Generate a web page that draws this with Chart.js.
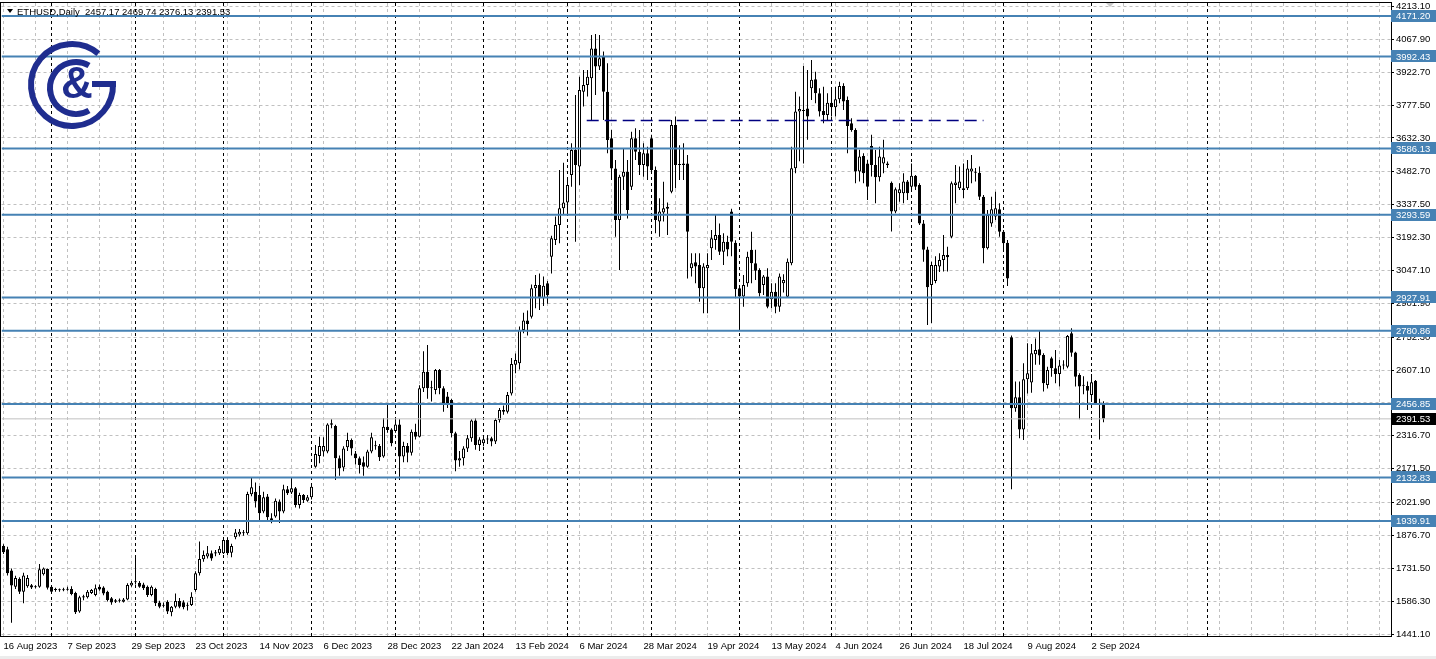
<!DOCTYPE html>
<html>
<head>
<meta charset="utf-8">
<title>ETHUSD, Daily</title>
<script src="https://cdn.jsdelivr.net/npm/chart.js@4.4.1/dist/chart.umd.min.js"></script>
<style>
  html, body { margin: 0; padding: 0; background: #fff; }
  #wrap { width: 1436px; height: 659px; position: relative; }
</style>
</head>
<body>
<div id="wrap"><canvas id="chart" width="1436" height="659"></canvas></div>
<script>
// ETHUSD daily candles, one per weekday, 16 Aug 2023 -> 5 Sep 2024
const openP = [
  1830,1815,1722,1650,1685,1628,1652,1656,1648,1650,
  1705,1728,1650,1635,1636,1634,1637,1640,1622,1540,
  1602,1603,1622,1613,1650,1647,1628,1599,1584,1588,
  1584,1594,1655,1670,1668,1660,1650,1613,1640,1580,
  1566,1584,1537,1562,1587,1581,1566,1569,1636,1709,
  1771,1783,1798,1797,1798,1798,1856,1800,1868,1881,
  1886,1886,2058,2070,2055,1982,2048,1952,1960,2026,
  1982,2080,2066,2085,2011,2055,2030,2045,2180,2227,
  2247,2247,2372,2360,2217,2177,2266,2298,2239,2217,
  2200,2180,2247,2270,2272,2225,2357,2345,2338,2367,
  2225,2272,2242,2335,2313,2527,2600,2527,2519,2607,
  2527,2490,2475,2328,2207,2217,2261,2306,2384,2276,
  2284,2300,2306,2291,2387,2423,2423,2504,2630,2637,
  2784,2826,2843,2968,2983,2924,2990,3108,3182,3248,
  3322,3347,3469,3579,3506,3837,3866,3896,4028,3948,
  3992,3837,3631,3498,3270,3461,3483,3417,3631,3572,
  3513,3565,3631,3491,3263,3303,3320,3395,3690,3513,
  3513,3520,3057,3083,3071,2968,3057,3145,3182,3204,
  3130,3174,3307,3170,2968,2932,2990,3138,3079,3049,
  2983,3020,2920,2953,2887,2990,2931,3079,3499,3749,
  3751,3763,3852,3892,3830,3752,3734,3788,3768,3803,
  3862,3800,3697,3668,3484,3553,3520,3597,3513,3459,
  3520,3520,3435,3307,3388,3388,3440,3417,3465,3425,
  3255,3140,2983,3000,3064,3093,3115,3196,3425,3410,
  3403,3410,3484,3480,3479,3373,3145,3255,3285,3317,
  3218,3170,2752,2438,2487,2345,2566,2552,2677,2699,
  2674,2541,2659,2615,2590,2627,2622,2770,2685,2585,
  2540,2537,2497,2560,2460,2457.17
];
const highP = [
  1838,1826,1730,1698,1692,1712,1702,1662,1656,1750,
  1735,1731,1652,1645,1642,1645,1650,1652,1628,1610,
  1615,1635,1640,1660,1660,1652,1632,1605,1596,1598,
  1600,1665,1675,1790,1675,1668,1655,1655,1645,1588,
  1580,1590,1565,1620,1600,1590,1580,1625,1718,1850,
  1810,1830,1810,1812,1830,1865,1868,1840,1905,1905,
  1900,2070,2135,2110,2095,2070,2060,1975,2040,2035,
  2100,2095,2135,2090,2065,2060,2055,2100,2276,2313,
  2310,2372,2390,2365,2230,2270,2330,2305,2250,2225,
  2225,2255,2330,2295,2280,2395,2453,2350,2395,2390,
  2290,2285,2345,2370,2540,2690,2718,2560,2612,2612,
  2535,2510,2480,2335,2250,2270,2320,2390,2395,2310,
  2320,2320,2312,2395,2440,2450,2510,2660,2680,2800,
  2860,2870,2985,3027,3034,3020,3000,3200,3285,3491,
  3523,3460,3609,3822,3903,3933,3933,4087,4092,4087,
  4014,3962,3668,3535,3470,3587,3535,3660,3675,3668,
  3609,3594,3646,3506,3366,3439,3347,3712,3727,3600,
  3609,3557,3123,3123,3123,3079,3123,3226,3292,3255,
  3211,3200,3320,3180,2980,3027,3130,3218,3138,3057,
  3027,3057,2990,2990,3034,3030,3100,3594,3837,3815,
  3950,3933,3977,3925,3852,3859,3830,3852,3859,3881,
  3874,3815,3719,3675,3580,3565,3535,3646,3579,3594,
  3624,3528,3440,3414,3432,3476,3447,3520,3469,3432,
  3270,3152,3086,3110,3123,3204,3152,3440,3513,3506,
  3520,3535,3557,3500,3506,3380,3314,3373,3395,3344,
  3226,3182,2760,2556,2556,2637,2725,2722,2747,2780,
  2681,2622,2666,2696,2652,2650,2762,2792,2688,2593,
  2580,2556,2590,2563,2480,2469.74
];
const lowP = [
  1795,1700,1491,1640,1618,1577,1645,1640,1642,1645,
  1700,1638,1620,1628,1628,1630,1632,1612,1530,1535,
  1590,1598,1618,1608,1632,1612,1585,1570,1578,1580,
  1580,1590,1650,1660,1645,1635,1605,1608,1565,1555,
  1558,1530,1520,1555,1555,1550,1545,1565,1628,1700,
  1760,1775,1765,1785,1790,1795,1790,1780,1860,1872,
  1875,1880,2050,2000,1940,1975,1945,1930,1955,1932,
  1975,2055,2060,2000,1995,2020,2025,2035,2175,2195,
  2225,2240,2350,2121,2140,2160,2250,2230,2190,2150,
  2140,2175,2240,2255,2205,2220,2330,2270,2330,2121,
  2200,2200,2230,2300,2310,2510,2480,2468,2500,2500,
  2423,2440,2310,2160,2180,2185,2245,2290,2255,2250,
  2270,2280,2270,2280,2375,2410,2415,2495,2593,2610,
  2770,2760,2835,2880,2872,2890,2900,3034,3160,3167,
  3292,3300,3417,3174,3425,3771,3815,3712,3822,3933,
  3712,3565,3447,3196,3049,3403,3277,3403,3535,3469,
  3461,3447,3480,3211,3196,3263,3204,3388,3410,3447,
  3447,3012,3020,2990,2909,2858,2858,3093,3138,3115,
  3071,3110,3110,2924,2784,2887,2975,2990,3005,2932,
  2939,2880,2880,2858,2865,2950,2925,3070,3476,3530,
  3520,3624,3800,3786,3727,3697,3712,3727,3727,3786,
  3756,3565,3660,3432,3440,3432,3358,3462,3344,3440,
  3476,3500,3219,3300,3351,3344,3358,3403,3403,3248,
  3086,2806,2815,2990,3040,3042,3042,3189,3344,3403,
  3366,3403,3432,3440,3358,3079,3140,3240,3270,3196,
  3130,2978,2080,2423,2306,2298,2504,2507,2630,2630,
  2512,2526,2578,2549,2534,2610,2615,2666,2534,2390,
  2500,2431,2475,2453,2300,2376.13
];
const closeP = [
  1802,1710,1655,1688,1628,1700,1688,1647,1650,1727,
  1731,1645,1628,1638,1634,1636,1640,1618,1537,1603,
  1608,1628,1636,1643,1638,1620,1591,1580,1590,1590,
  1594,1658,1668,1672,1650,1643,1613,1650,1577,1562,
  1570,1540,1562,1587,1562,1559,1570,1606,1709,1772,
  1790,1798,1775,1802,1818,1856,1798,1830,1890,1893,
  1887,2060,2089,2026,1974,2045,1957,1945,2030,1982,
  2080,2063,2085,2011,2055,2033,2045,2092,2236,2272,
  2272,2367,2365,2217,2173,2261,2298,2261,2217,2188,
  2180,2247,2310,2274,2222,2357,2342,2284,2367,2225,
  2272,2242,2335,2313,2527,2600,2527,2530,2607,2527,
  2457,2457,2328,2207,2217,2261,2306,2384,2276,2300,
  2301,2303,2291,2387,2431,2431,2497,2634,2652,2784,
  2826,2810,2968,2983,2924,2980,2938,3189,3248,3322,
  3347,3425,3579,3513,3844,3866,3903,4028,3948,3984,
  3837,3623,3498,3270,3461,3483,3314,3631,3572,3513,
  3565,3506,3491,3270,3307,3322,3329,3690,3513,3515,
  3520,3218,3079,3064,2968,3064,3071,3189,3204,3130,
  3174,3140,3174,2964,2932,2983,3108,3079,3046,2946,
  3020,2887,2953,2887,3020,3005,3086,3499,3749,3760,
  3755,3727,3889,3830,3749,3734,3788,3768,3803,3862,
  3793,3685,3668,3484,3550,3476,3417,3513,3459,3550,
  3547,3513,3307,3406,3406,3440,3388,3465,3417,3255,
  3138,2973,3071,3071,3093,3115,3105,3432,3436,3440,
  3410,3498,3498,3479,3373,3145,3292,3317,3322,3218,
  3167,3012,2438,2487,2345,2566,2593,2681,2696,2671,
  2549,2607,2615,2590,2627,2630,2758,2684,2578,2534,
  2538,2516,2553,2457,2455,2391.53
];

// one date label every 16 bars
const dateLabels = [
  '16 Aug 2023', '7 Sep 2023', '29 Sep 2023', '23 Oct 2023', '14 Nov 2023', '6 Dec 2023',
  '28 Dec 2023', '22 Jan 2024', '13 Feb 2024', '6 Mar 2024', '28 Mar 2024', '19 Apr 2024',
  '13 May 2024', '4 Jun 2024', '26 Jun 2024', '18 Jul 2024', '9 Aug 2024', '2 Sep 2024'
];
const priceTicks = [
  4213.10, 4067.90, 3922.70, 3777.50, 3632.30, 3482.70, 3337.50, 3192.30, 3047.10, 2901.90,
  2752.30, 2607.10, 2461.90, 2316.70, 2171.50, 2021.90, 1876.70, 1731.50, 1586.30, 1441.10
];
// horizontal levels drawn on the chart
const levelLines = [4171.20, 3992.43, 3586.13, 3293.59, 2927.91, 2780.86, 2456.85, 2132.83, 1939.91];
const lastPrice = 2391.53;
const dashLevel = { fromBar: 145.8, toBar: 245, price: 3709.5 };
// first bar of each month (period separators)
const monthStarts = [12, 33, 55, 77, 98, 120, 141, 162, 184, 207, 227, 250, 272, 301];
const headerText = 'ETHUSD,Daily  2457.17 2469.74 2376.13 2391.53';

const X_MIN = -0.5, X_MAX = 346.875;
const Y_MIN = 1432.27, Y_MAX = 4228.56;
const levelColor = '#4682b4';
const logoColor = '#1f2d8f';
const axisFont = { family: '"Liberation Sans", Arial, sans-serif', size: 9.5 };
const fontCss = '9.5px "Liberation Sans", Arial, sans-serif';

const wickData = lowP.map((lo, i) => ({ x: i, y: [lo, highP[i]] }));
const bodyData = openP.map((o, i) => ({ x: i, y: [o, closeP[i]] }));

const datasets = [
  {
    type: 'bar', data: wickData, order: 3, grouped: false,
    barThickness: 1, backgroundColor: '#000', borderWidth: 0, inflateAmount: 0
  },
  {
    type: 'bar', data: bodyData, order: 2, grouped: false,
    barThickness: 3, minBarLength: 1, inflateAmount: 0,
    backgroundColor: ctx => {
      const i = ctx.dataIndex;
      return closeP[i] >= openP[i] ? '#fff' : '#000';
    },
    borderColor: '#000', borderWidth: 1, borderSkipped: false
  },
  {
    type: 'line', order: 1, borderColor: '#c0c0c0', borderWidth: 1, pointRadius: 0,
    data: [{ x: X_MIN, y: lastPrice }, { x: X_MAX, y: lastPrice }]
  },
  {
    type: 'line', order: 1, borderColor: '#000080', borderWidth: 1.5, borderDash: [12, 6], pointRadius: 0,
    data: [{ x: dashLevel.fromBar, y: dashLevel.price }, { x: dashLevel.toBar, y: dashLevel.price }]
  }
];
levelLines.forEach(v => {
  datasets.push({
    type: 'line', order: 0, borderColor: levelColor, borderWidth: 2, pointRadius: 0,
    data: [{ x: X_MIN, y: v }, { x: X_MAX, y: v }]
  });
});

function drawLogo(ctx) {
  ctx.save();
  ctx.strokeStyle = logoColor;
  ctx.fillStyle = logoColor;
  ctx.lineWidth = 6;
  // outer G
  ctx.beginPath();
  ctx.arc(72, 85, 41, -50 * Math.PI / 180, -2 * Math.PI / 180, true);
  ctx.stroke();
  ctx.beginPath();
  ctx.moveTo(116, 84);
  ctx.lineTo(92, 84);
  ctx.stroke();
  // inner C
  ctx.beginPath();
  ctx.arc(76, 88, 26, -60 * Math.PI / 180, 60 * Math.PI / 180, true);
  ctx.stroke();
  ctx.font = 'bold 44px "Liberation Sans", Arial, sans-serif';
  ctx.textAlign = 'center';
  ctx.textBaseline = 'middle';
  ctx.fillText('&', 77, 86);
  ctx.restore();
}

const chartDecor = {
  id: 'chartDecor',
  beforeDatasetsDraw(chart) {
    const { ctx, chartArea: a, scales: { x } } = chart;
    ctx.save();
    ctx.beginPath();
    ctx.rect(a.left, a.top, a.right - a.left, a.bottom - a.top);
    ctx.clip();
    ctx.strokeStyle = '#000';
    ctx.lineWidth = 1;
    ctx.setLineDash([3, 3]);
    monthStarts.forEach(i => {
      const px = Math.floor(x.getPixelForValue(i)) + 0.5;
      ctx.beginPath();
      ctx.moveTo(px, a.top);
      ctx.lineTo(px, a.bottom);
      ctx.stroke();
    });
    ctx.restore();
  },
  afterDraw(chart) {
    const { ctx, chartArea: a, scales: { y } } = chart;
    ctx.save();
    // frame
    ctx.strokeStyle = '#000';
    ctx.lineWidth = 1;
    ctx.strokeRect(0.5, a.top - 0.5, Math.round(a.right), Math.round(a.bottom - a.top) + 1);
    // bottom strip
    ctx.fillStyle = '#ececec';
    ctx.fillRect(0, chart.height - 3, chart.width, 3);
    // header
    ctx.fillStyle = '#000';
    ctx.beginPath();
    ctx.moveTo(7, 9); ctx.lineTo(13, 9); ctx.lineTo(10, 13); ctx.closePath();
    ctx.fill();
    ctx.font = fontCss;
    ctx.textBaseline = 'middle';
    ctx.textAlign = 'left';
    ctx.fillText(headerText, 17, 12);
    // chart shift marker
    ctx.fillStyle = '#c8c8c8';
    ctx.beginPath();
    ctx.moveTo(1106, 3); ctx.lineTo(1114, 3); ctx.lineTo(1110, 7); ctx.closePath();
    ctx.fill();
    drawLogo(ctx);
    // price boxes on the axis
    const boxX = Math.round(a.right);
    const boxW = chart.width - boxX;
    const box = (v, bg) => {
      const py = y.getPixelForValue(v);
      ctx.fillStyle = bg;
      ctx.fillRect(boxX, Math.round(py) - 6, boxW, 12);
      ctx.fillStyle = '#fff';
      ctx.fillText(v.toFixed(2), boxX + 5, py + 0.5);
    };
    levelLines.forEach(v => box(v, levelColor));
    box(lastPrice, '#000');
    ctx.restore();
  }
};

new Chart(document.getElementById('chart'), {
  type: 'bar',
  data: { datasets },
  options: {
    responsive: false,
    animation: false,
    devicePixelRatio: 1,
    events: [],
    layout: { padding: { left: 1.5, top: 3, right: 0, bottom: 0 } },
    plugins: { legend: { display: false }, tooltip: { enabled: false }, title: { display: false } },
    scales: {
      x: {
        type: 'linear', position: 'bottom', min: X_MIN, max: X_MAX, offset: false,
        afterBuildTicks: s => {
          const t = [];
          for (let v = 0; v <= 344; v += 8) t.push({ value: v });
          s.ticks = t;
        },
        afterFit: s => { s.height = 23; s.paddingLeft = 0; s.paddingRight = 0; },
        ticks: {
          autoSkip: false, maxRotation: 0, align: 'start', padding: 5, color: '#000', font: axisFont,
          callback: v => (v % 16 === 0 && dateLabels[v / 16]) ? dateLabels[v / 16] : ''
        },
        grid: { color: '#c0c0c0', lineWidth: 1, drawTicks: false, offset: false },
        border: { display: false, dash: [3, 3] }
      },
      y: {
        type: 'linear', position: 'right', min: Y_MIN, max: Y_MAX,
        afterBuildTicks: s => { s.ticks = priceTicks.map(v => ({ value: v })); },
        afterFit: s => { s.width = 45; s.paddingTop = 0; s.paddingBottom = 0; },
        ticks: { padding: 2, color: '#000', font: axisFont, callback: v => v.toFixed(2) },
        grid: { color: '#c0c0c0', lineWidth: 1, tickColor: '#000', tickLength: 3, tickBorderDash: [] },
        border: { display: false, dash: [3, 3] }
      }
    }
  },
  plugins: [chartDecor]
});
</script>
</body>
</html>
